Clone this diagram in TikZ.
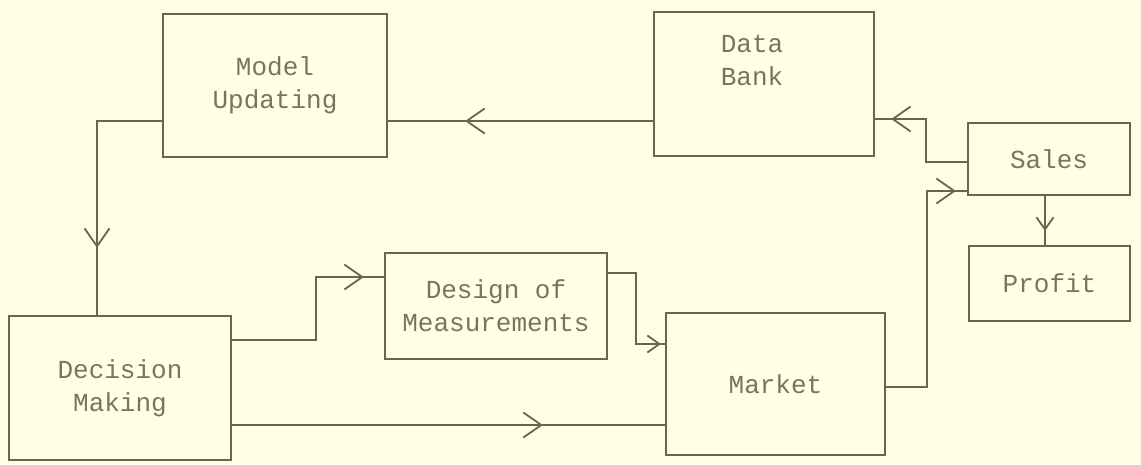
\documentclass[tikz,border=0pt]{standalone}
\usepackage{fontspec}
\setmonofont{Liberation Mono}
\usetikzlibrary{arrows.meta,decorations.markings}

\definecolor{paper}{HTML}{FFFFE6}
\definecolor{ink}{HTML}{6E6252}
\definecolor{inktext}{HTML}{7D7262}

\tikzset{
  txt/.style={inner sep=0pt, align=center, text=inktext, font=\ttfamily\fontsize{26}{33}\selectfont},
  box/.style={txt, draw=ink, line width=1.8pt},
  flow/.style={color=ink, line width=1.8pt},
  barb/.tip={Straight Barb[length=18pt,width=25pt]},
  smallbarb/.tip={Straight Barb[length=12pt,width=17pt]},
  arrowat/.style={postaction={decorate}, decoration={markings, mark=at position #1 with {\arrow{barb}}}},
  smallarrowat/.style={postaction={decorate}, decoration={markings, mark=at position #1 with {\arrow{smallbarb}}}}
}

\begin{document}
\begin{tikzpicture}[x=1pt, y=-1pt]
\fill[paper] (0,0) rectangle (1141,464);
\useasboundingbox (0,0) rectangle (1141,464);

% boxes
\node[box, minimum width=224pt, minimum height=143pt] (mu) at (275,85.5) {Model\\Updating};
\node[box, minimum width=220pt, minimum height=144pt, label={[txt, xshift=-12pt, yshift=24pt]center:{Data\\Bank}}] (db) at (764,84) {};
\node[box, minimum width=222pt, minimum height=144pt] (dm) at (120,388) {Decision\\Making};
\node[box, minimum width=222pt, minimum height=106pt] (dom) at (496,306) {Design of\\Measurements};
\node[box, minimum width=219pt, minimum height=142pt] (mk) at (775.5,384) {Market};
\node[box, minimum width=162pt, minimum height=72pt] (sl) at (1049,159) {Sales};
\node[box, minimum width=161pt, minimum height=75pt] (pf) at (1049.5,283.5) {Profit};

% connectors
\draw[flow, arrowat=188pt] (db.west |- 0,121) -- (mu.east |- 0,121);
\draw[flow, arrowat=192pt] (mu.west |- 0,121) -| (dm.north -| 97,0);
\draw[flow, arrowat=195pt] (dm.east |- 0,340) -- (316,340) -- (316,277) -- (dom.west |- 0,277);
\draw[flow, smallarrowat=124pt] (dom.east |- 0,273) -- (636,273) -- (636,344) -- (mk.west |- 0,344);
\draw[flow, arrowat=311pt] (dm.east |- 0,425) -- (mk.west |- 0,425);
\draw[flow, arrowat=266pt] (mk.east |- 0,387) -- (927,387) -- (927,191) -- (sl.west |- 0,191);
\draw[flow, arrowat=119pt] (sl.west |- 0,162) -- (926,162) -- (926,119) -- (db.east |- 0,119);
\draw[flow, smallarrowat=35pt] (sl.south -| 1045,0) -- (pf.north -| 1045,0);
\end{tikzpicture}
\end{document}
